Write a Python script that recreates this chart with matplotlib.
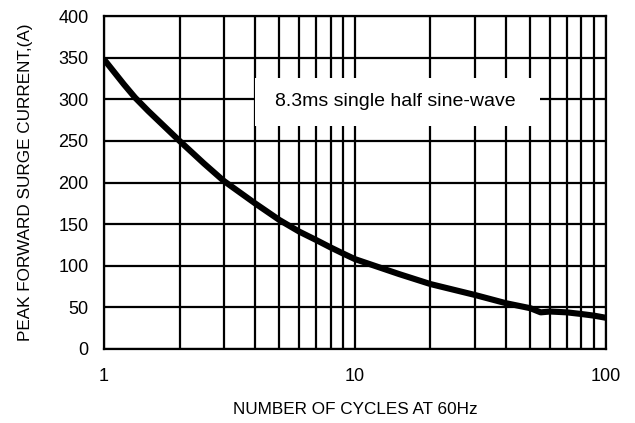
import matplotlib.pyplot as plt
from matplotlib.patches import Rectangle
from matplotlib.ticker import FixedLocator, NullFormatter

plt.rcParams['font.family'] = ['Liberation Sans', 'DejaVu Sans']

# surge rating curve, 8.3ms half sine-wave
cycles = [1, 1.2, 1.33, 1.5, 2, 2.5, 3, 4, 5, 6, 7, 8, 9, 10, 15, 20, 30, 40, 50, 55, 60, 70, 80, 90, 100]
current = [348, 318, 302, 286, 250, 223, 202, 175, 155, 141, 131, 122, 114.5, 108, 90, 78, 65, 55, 49, 44, 45, 44, 42, 40, 37.5]

xticks = [1, 10, 100]
xminor = [2, 3, 4, 5, 6, 7, 8, 9, 20, 30, 40, 50, 60, 70, 80, 90]
yticks = [0, 50, 100, 150, 200, 250, 300, 350, 400]

fig = plt.figure(figsize=(6.35, 4.23), dpi=100)
ax = fig.add_axes([0.1638, 0.175, 0.7902, 0.787])

ax.set_xscale('log')
ax.set_xlim(1, 100)
ax.set_ylim(0, 400)
ax.set_xticks(xticks)
ax.set_xticklabels([str(t) for t in xticks])
ax.xaxis.set_minor_locator(FixedLocator(xminor))
ax.xaxis.set_minor_formatter(NullFormatter())
ax.set_yticks(yticks)

ax.grid(True, which='both', color='black', linewidth=1.6)
ax.set_axisbelow(True)
for s in ax.spines.values():
    s.set_linewidth(1.6)

ax.tick_params(which='both', length=0)
ax.tick_params(axis='y', pad=11, labelsize=13)
ax.tick_params(axis='x', pad=14, labelsize=13)

# white box for the note, hiding the grid behind it
ax.add_patch(Rectangle((4.0, 268), 50.6, 57.5, facecolor='white', edgecolor='none', zorder=2))
ax.text(14.5, 297, '8.3ms single half sine-wave', ha='center', va='center', fontsize=14, zorder=3)

ax.plot(cycles, current, color='black', linewidth=4.4,
        solid_capstyle='butt', solid_joinstyle='round', zorder=4)

ax.set_xlabel('NUMBER OF CYCLES AT 60Hz', fontsize=12.3, labelpad=12)
ax.set_ylabel('PEAK FORWARD SURGE CURRENT,(A)', fontsize=12.3, labelpad=18)

fig.savefig('out.png', dpi=100)
